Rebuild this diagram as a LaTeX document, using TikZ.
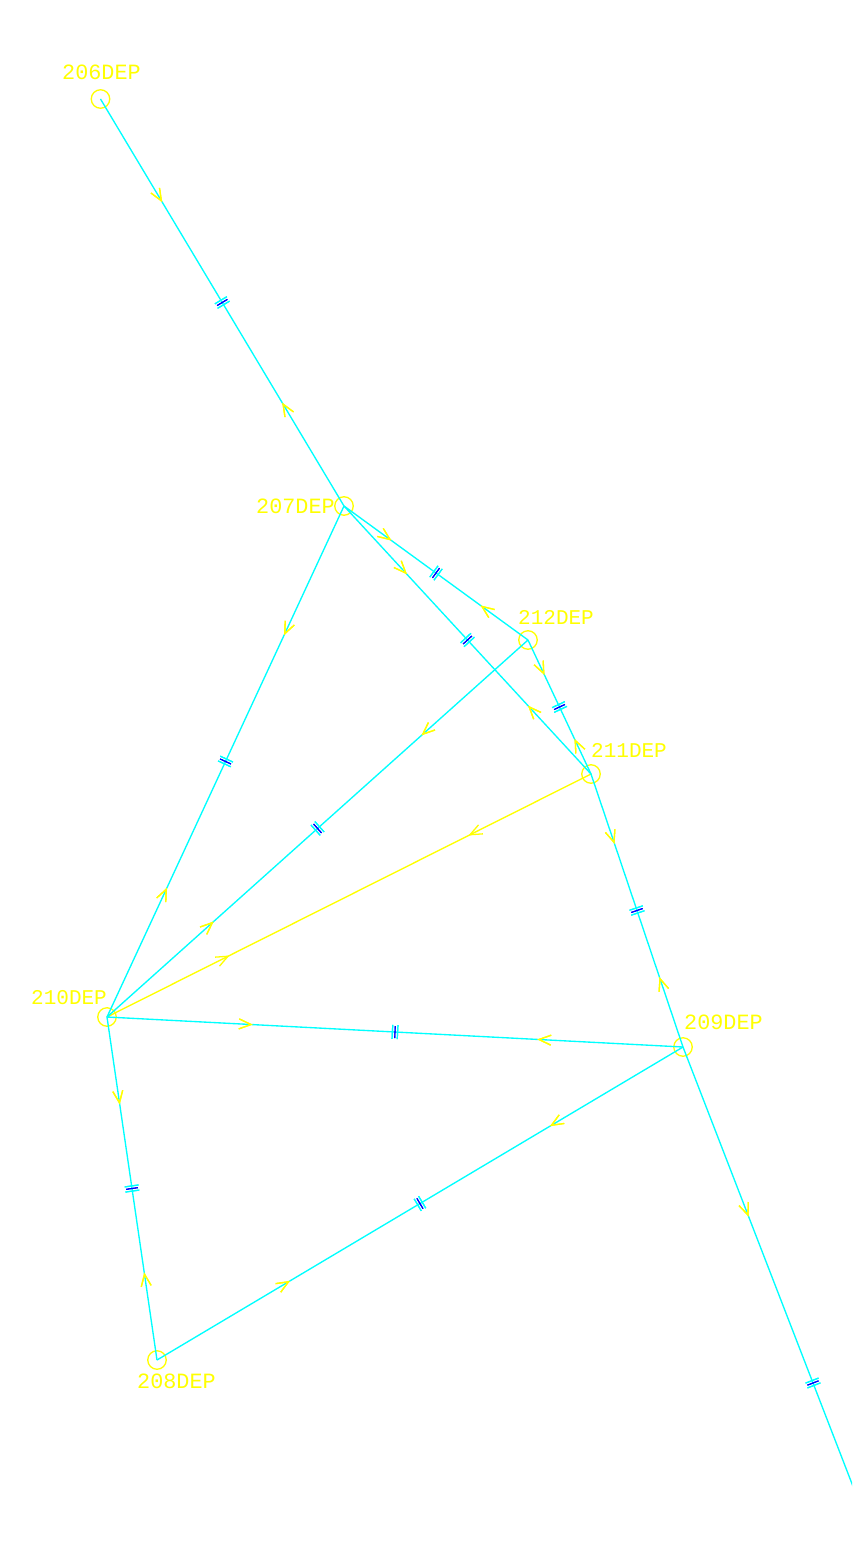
\documentclass[tikz,border=0pt]{standalone}
\usepackage{fontspec}
\setmonofont{Liberation Mono}
\usetikzlibrary{decorations.markings}
\definecolor{cadY}{RGB}{255,255,0}
\definecolor{cadC}{RGB}{0,255,255}
\definecolor{cadB}{RGB}{0,0,255}
\tikzset{
  x=1pt,y=-1pt,
  station/.style={circle,draw=cadY,line width=1.3pt,minimum size=18.5pt,inner sep=0pt},
  tag/.style={text=cadY,anchor=west,inner sep=0pt,font=\ttfamily\fontsize{21}{22}\selectfont},
  widetag/.style={tag,font=\ttfamily\fontsize{21.8}{22}\selectfont},
  barb/.style={draw=cadY,line width=1.3pt},
  chevrons/.style={postaction={decorate},decoration={markings,
    mark=at position 0.25 with {\draw[barb] (-12,5)--(0,0)--(-12,-5);},
    mark=at position 0.75 with {\draw[barb] (12,5)--(0,0)--(12,-5);}}},
  ticks/.style={postaction={decorate},decoration={markings,
    mark=at position 0.5 with {
      \draw[cadC,line width=1.2pt] (-2.6,-7)--(-2.6,7) (2.6,-7)--(2.6,7);
      \draw[cadB,line width=1.1pt] (0,-6)--(0,6);}}},
  leg/.style={cadC,line width=1.35pt,chevrons,ticks},
  plainleg/.style={cadY,line width=1.35pt,chevrons}
}
\begin{document}
\begin{tikzpicture}
\useasboundingbox (0,0) rectangle (852,1549);
\clip (0,0) rectangle (852,1549);
\fill[white] (0,0) rectangle (852,1549);
\node[station] (s206) at (100.5,99) {};
\node[station] (s207) at (344,506) {};
\node[station] (s212) at (528,640) {};
\node[station] (s211) at (591,774) {};
\node[station] (s209) at (683,1047) {};
\node[station] (s210) at (107,1017) {};
\node[station] (s208) at (157,1360) {};
\coordinate (far) at (943,1719);
\node[widetag] (t206) at (62,72.5) {206DEP};
\node[widetag] (t207) at (256,506.5) {207DEP};
\node[tag] (t212) at (518,617) {212DEP};
\node[tag] (t211) at (591,750) {211DEP};
\node[widetag] (t209) at (684,1022.5) {209DEP};
\node[tag] (t210) at (31,998) {210DEP};
\node[widetag] (t208) at (137,1381.5) {208DEP};
\draw[plainleg] (s211.center) -- (s210.center);
\draw[leg] (s206.center) -- (s207.center);
\draw[leg] (s207.center) -- (s212.center);
\draw[leg] (s207.center) -- (s211.center);
\draw[leg] (s207.center) -- (s210.center);
\draw[leg] (s212.center) -- (s211.center);
\draw[leg] (s212.center) -- (s210.center);
\draw[leg] (s211.center) -- (s209.center);
\draw[leg] (s209.center) -- (s210.center);
\draw[leg] (s210.center) -- (s208.center);
\draw[leg] (s208.center) -- (s209.center);
\draw[leg] (s209.center) -- (far);
\end{tikzpicture}
\end{document}
